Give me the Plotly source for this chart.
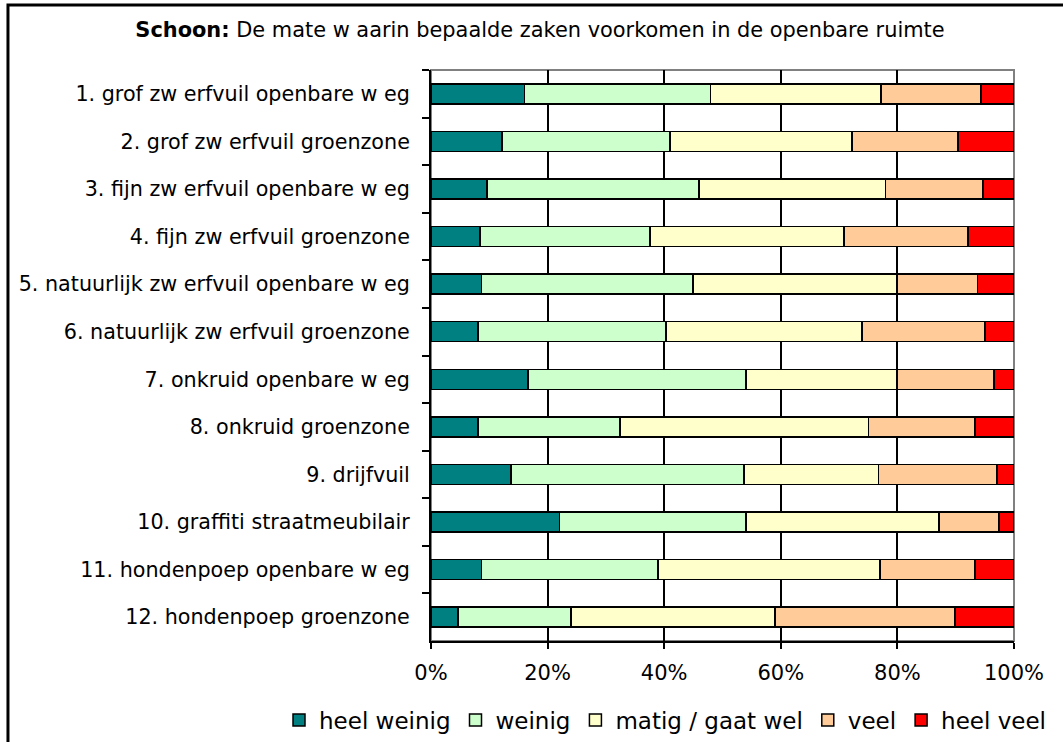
import plotly.graph_objects as go

categories = [
    "1. grof zw erfvuil openbare w eg",
    "2. grof zw erfvuil groenzone",
    "3. fijn zw erfvuil openbare w eg",
    "4. fijn zw erfvuil groenzone",
    "5. natuurlijk zw erfvuil openbare w eg",
    "6. natuurlijk zw erfvuil groenzone",
    "7. onkruid openbare w eg",
    "8. onkruid groenzone",
    "9. drijfvuil",
    "10. graffiti straatmeubilair",
    "11. hondenpoep openbare w eg",
    "12. hondenpoep groenzone",
]

heel_weinig = [16.0, 12.2, 9.6, 8.4, 8.7, 8.1, 16.6, 8.1, 13.7, 22.0, 8.7, 4.6]
weinig = [31.9, 28.8, 36.4, 29.2, 36.2, 32.2, 37.4, 24.3, 40.0, 32.0, 30.2, 19.4]
matig = [29.3, 31.2, 32.0, 33.2, 35.0, 33.6, 25.9, 42.6, 23.1, 33.1, 38.1, 35.0]
veel = [17.1, 18.2, 16.7, 21.3, 13.8, 21.1, 16.7, 18.3, 20.3, 10.3, 16.3, 30.9]
heel_veel = [5.7, 9.6, 5.3, 7.9, 6.3, 5.0, 3.4, 6.7, 2.9, 2.6, 6.7, 10.1]

series = [
    ("heel weinig", heel_weinig, "#008080"),
    ("weinig", weinig, "#CCFFCC"),
    ("matig / gaat wel", matig, "#FFFFCC"),
    ("veel", veel, "#FFCC99"),
    ("heel veel", heel_veel, "#FF0000"),
]

font = "DejaVu Sans, Arial, sans-serif"

fig = go.Figure()
for name, vals, col in series:
    fig.add_trace(go.Bar(
        y=categories, x=vals, name=name, orientation="h",
        marker=dict(color=col, line=dict(color="black", width=1.5)),
    ))

# outer chart frame (only top and left edges visible in the crop)
fig.add_shape(type="rect", xref="paper", yref="paper",
              x0=-0.7256, x1=1.3, y0=-0.4, y1=1.114,
              line=dict(color="black", width=3), layer="below")
# plot-area border (grey)
fig.add_shape(type="rect", xref="paper", yref="paper",
              x0=0, x1=1, y0=0, y1=1,
              line=dict(color="#808080", width=2), layer="below")

fig.update_layout(
    barmode="stack",
    bargap=0.58,
    width=1063, height=742,
    margin=dict(l=431, r=49, t=70, b=101, autoexpand=False),
    paper_bgcolor="white", plot_bgcolor="white",
    font=dict(family=font, size=21, color="black"),
    title=dict(text="<b>Schoon:</b> De mate w aarin bepaalde zaken voorkomen in de openbare ruimte",
               x=0.508, xref="container", xanchor="center",
               y=1 - 30 / 742, yref="container", yanchor="middle",
               font=dict(size=20.9)),
    legend=dict(orientation="h", x=(279 - 431) / 583, xanchor="left",
                y=(641 - 720) / 571, yanchor="middle",
                font=dict(size=23), traceorder="normal", itemclick=False,
                itemwidth=30, bgcolor="rgba(0,0,0,0)"),
    xaxis=dict(range=[0, 100], dtick=20, ticksuffix="%", showgrid=True,
               gridcolor="black", gridwidth=1.5, showline=True, linecolor="black",
               linewidth=2, ticks="outside", ticklen=6, tickcolor="black",
               tickwidth=2, zeroline=False, tickfont=dict(size=21),
               ticklabelstandoff=6),
    yaxis=dict(type="category", autorange="reversed", showline=True,
               linecolor="black", linewidth=2, ticks="outside", tickson="boundaries",
               ticklen=7, tickcolor="black", tickwidth=2, showgrid=False,
               tickfont=dict(size=20.7), ticklabelstandoff=15),
)

fig.write_html("out.html", config={"displayModeBar": False},
               post_script="document.body.style.margin='0';")
